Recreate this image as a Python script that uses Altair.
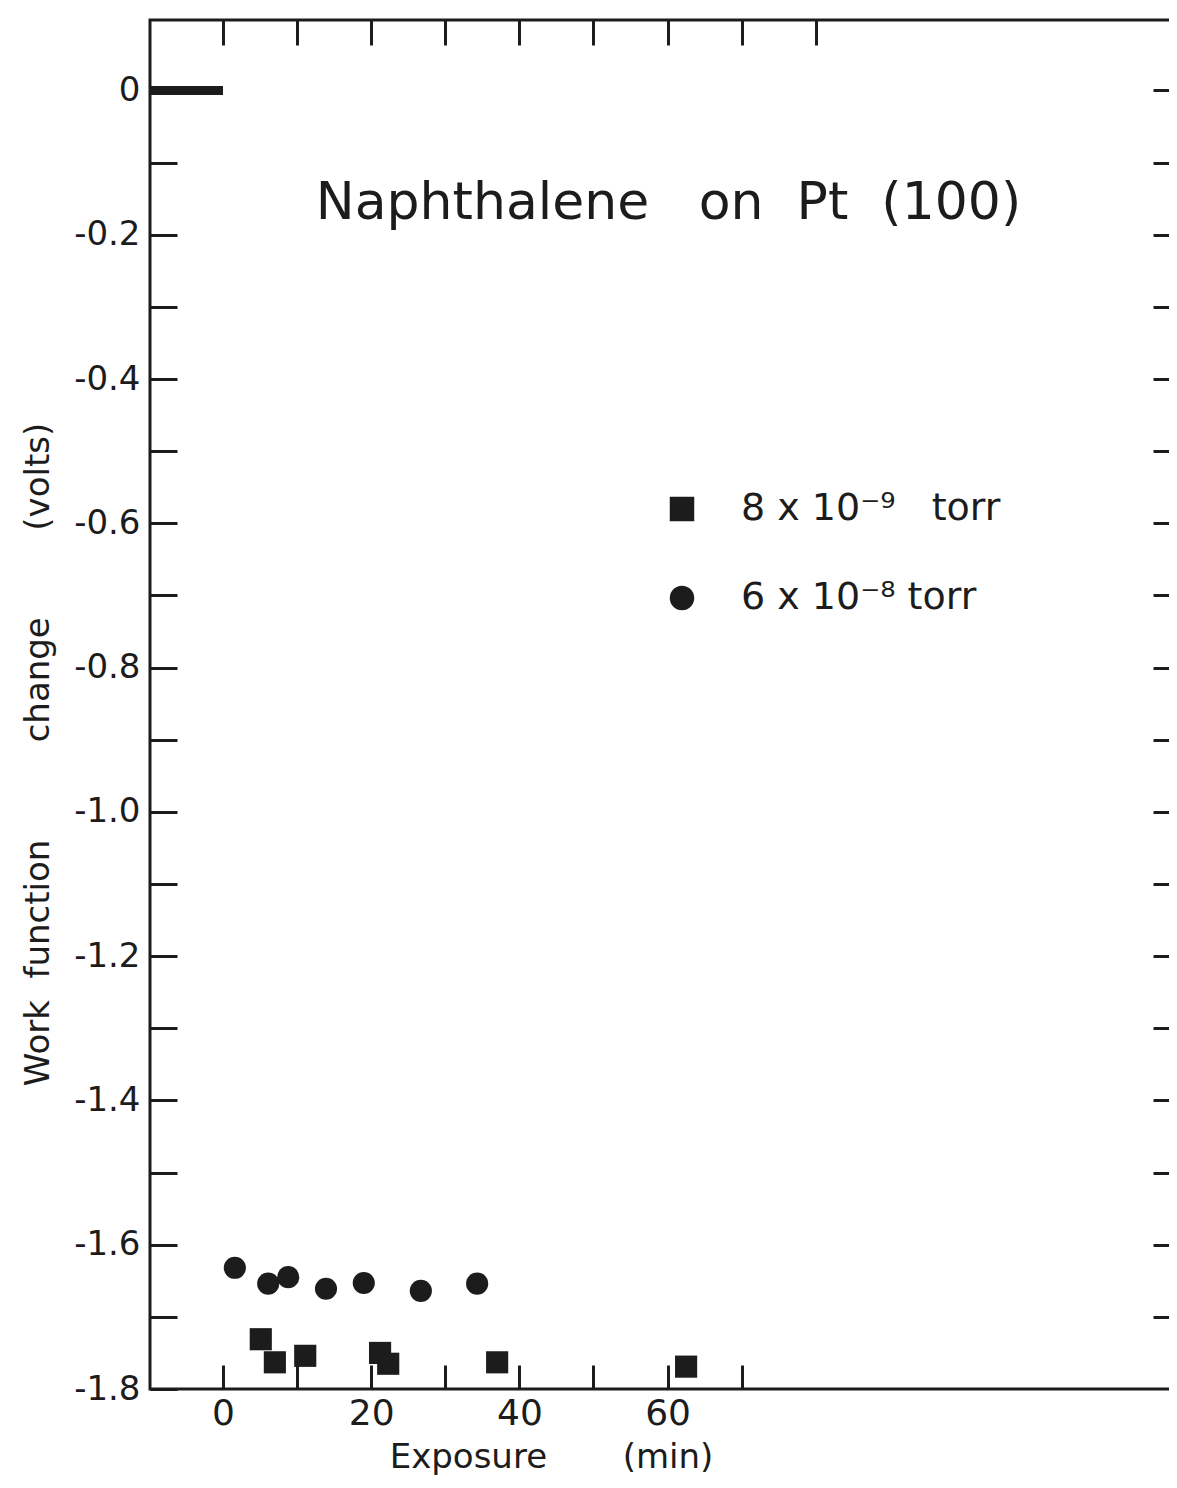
import altair as alt
import pandas as pd

# ---- data ----
NB = "\u00a0"
sq_label = "8 x 10\u207b\u2079" + NB * 3 + "torr"
ci_label = "6 x 10\u207b\u2078" + NB + "torr"
series_order = [sq_label, ci_label]

circle_exposure = [1.6, 6.1, 8.8, 13.9, 19.0, 26.7, 34.3]
circle_change = [-1.632, -1.654, -1.645, -1.661, -1.653, -1.664, -1.654]
square_exposure = [5.1, 7.0, 11.1, 21.2, 22.3, 37.0, 62.5]
square_change = [-1.731, -1.763, -1.754, -1.750, -1.765, -1.763, -1.769]

# initial (zero) level before exposure
bar_start = [-9.85]
bar_end = [0.0]
bar_level = [0.0]

x_domain = [-9.85, 128.75]
y_domain = [-1.8, 0.0977]

x_bottom_ticks = [0, 10, 20, 30, 40, 50, 60, 70]
x_top_ticks = [0, 10, 20, 30, 40, 50, 60, 70, 80]
y_left_ticks = [round(-0.1 * i, 1) for i in range(19)]
y_right_ticks = [round(-0.1 * i, 1) for i in range(18)]

title_text = "Naphthalene" + NB * 3 + "on" + NB * 2 + "Pt" + NB * 2 + "(100)"
x_title = "Exposure" + NB * 7 + "(min)"
y_title = "Work" + NB * 2 + "function" + NB * 9 + "change" + NB * 8 + "(volts)"

INK = "#1c1c1c"
FONT = "DejaVu Sans"

pts = pd.DataFrame({
    "exposure": square_exposure + circle_exposure,
    "change": square_change + circle_change,
    "series": [sq_label] * len(square_exposure) + [ci_label] * len(circle_exposure),
})
bar = pd.DataFrame({"x0": bar_start, "x1": bar_end, "y": bar_level})

xs = alt.Scale(domain=x_domain, nice=False, zero=False)
ys = alt.Scale(domain=y_domain, nice=False, zero=False)

points = alt.Chart(pts).mark_point(filled=True, opacity=1, size=490, color=INK).encode(
    x=alt.X("exposure:Q", scale=xs, axis=alt.Axis(
        orient="bottom", values=x_bottom_ticks, domain=False, grid=False,
        ticks=True, tickSize=24, offset=-24, tickWidth=3, tickColor=INK,
        labelExpr="datum.value % 20 == 0 ? datum.label : ''",
        labelFontSize=36, labelPadding=7, labelFont=FONT, labelColor=INK,
        title=x_title, titleFont=FONT, titleFontSize=34,
        titleFontWeight="normal", titleColor=INK, titleX=401, titleY=102,
        titleAlign="center", titleBaseline="alphabetic")),
    y=alt.Y("change:Q", scale=ys, axis=alt.Axis(
        orient="left", values=y_left_ticks, domain=False, grid=False,
        ticks=True, tickSize=27, offset=-27, tickWidth=3, tickColor=INK,
        labelExpr="abs(round(datum.value*10)) % 2 == 0 ? (datum.value == 0 ? '0' : '-' + format(abs(datum.value), '.1f')) : ''",
        labelFontSize=34, labelPadding=10, labelFont=FONT, labelColor=INK,
        title=y_title,
        titleFont=FONT, titleFontSize=34, titleFontWeight="normal", titleColor=INK,
        titleAngle=270, titleX=-139, titleY=734, titleAlign="center", titleBaseline="middle")),
    shape=alt.Shape("series:N", scale=alt.Scale(domain=series_order, range=["square", "circle"]),
                    legend=alt.Legend(
                        title=None, orient="none", legendX=513, legendY=470,
                        symbolSize=600, symbolFillColor=INK, symbolStrokeWidth=0,
                        symbolOpacity=1, labelFont=FONT, labelFontSize=38, labelColor=INK,
                        labelOffset=40, rowPadding=51, labelLimit=500)),
)

zero_bar = alt.Chart(bar).mark_rule(color=INK, strokeWidth=9).encode(
    x=alt.X("x0:Q", scale=xs, axis=alt.Axis(
        orient="top", values=x_top_ticks, domain=False, grid=False, labels=False,
        ticks=True, tickSize=25, offset=-25, tickWidth=3, tickColor=INK, title=None)),
    x2="x1:Q",
    y=alt.Y("y:Q", scale=ys, axis=alt.Axis(
        orient="right", values=y_right_ticks, domain=False, grid=False, labels=False,
        ticks=True, tickSize=24, offset=-24, tickWidth=3, tickColor=INK, title=None)),
)

chart = alt.layer(points, zero_bar).resolve_axis(
    x="independent", y="independent"
).properties(
    width=1027, height=1369,
    autosize=alt.AutoSizeParams(type="none"),
    padding={"left": 142, "top": 12, "right": -8, "bottom": 87},
    title=alt.TitleParams(
        text=title_text,
        font=FONT, fontSize=52, fontWeight="normal", color=INK,
        anchor="middle", frame="group", baseline="alphabetic",
        offset=0, dy=252, dx=5),
    background="white",
).configure_view(
    stroke=INK, strokeWidth=3
)

chart.save("out.html", embed_options={"renderer": "svg", "actions": False})
